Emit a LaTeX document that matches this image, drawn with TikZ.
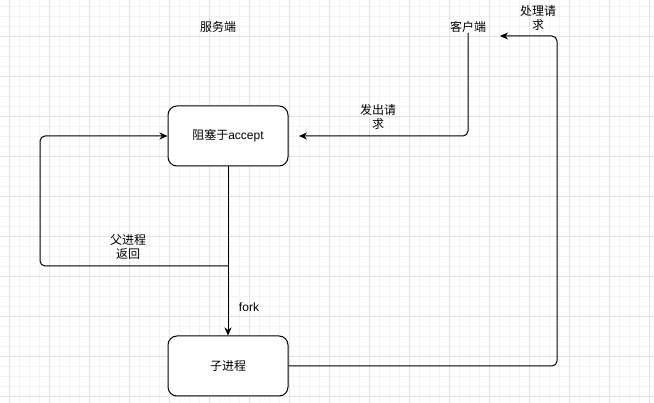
\documentclass[tikz,border=0pt]{standalone}
\usepackage{fontspec}
\setmainfont{Liberation Sans}
\newfontfamily\cjk{Noto Sans CJK SC}
\usetikzlibrary{arrows.meta}
\definecolor{gridminor}{HTML}{F3F3F3}
\definecolor{gridmajor}{HTML}{E2E2E2}
\begin{document}
\begin{tikzpicture}[x=1pt,y=-1pt,
  box/.style={draw=black, line width=1pt, rounded corners=9pt, minimum width=120pt, minimum height=60pt, inner sep=0pt, fill=white, font=\fontsize{12}{14}\selectfont},
  lbl/.style={font=\fontsize{12}{14}\selectfont, align=center, inner sep=0pt},
  conn/.style={draw=black, line width=1pt, rounded corners=5pt},
  tip/.style={-{Stealth[length=8pt,width=7pt,inset=2.5pt]}},
  minorline/.style={draw=gridminor, line width=0.8pt},
  majorline/.style={draw=gridmajor, line width=0.8pt}]
\useasboundingbox (0,0) rectangle (654,403);
\fill[white] (0,0) rectangle (654,403);
\foreach \x in {9,19,...,649} \draw[minorline] (\x,0) -- (\x,403);
\foreach \y in {6,16,...,396} \draw[minorline] (0,\y) -- (654,\y);
\foreach \x in {9,49,...,649} \draw[majorline] (\x,0) -- (\x,403);
\foreach \y in {36,76,...,396} \draw[majorline] (0,\y) -- (654,\y);

\node[box] (acc) at (228,136) {{\cjk 阻塞于}accept};
\node[box] (child) at (228,366) {\cjk 子进程};
\node[lbl] (srv) at (218,27) {\cjk 服务端};
\node[lbl] (cli) at (468,27) {\cjk 客户端};
\node[lbl] (req) at (378,117) {\cjk 发出请\\\cjk 求};
\node[lbl] (proc) at (538,17.5) {\cjk 处理请\\\cjk 求};
\node[lbl] (ret) at (128,246.5) {\cjk 父进程\\\cjk 返回};
\node[lbl] (fork) at (249,307) {fork};

\coordinate (split) at (228,266);
\coordinate (cliin) at (500,36);
\coordinate (accin) at (299,136);

\draw[conn,tip] (cli.south) |- (accin);
\draw[conn,tip] (acc.south) -- (child.north);
\draw[conn,tip] (split) -- (40,266) -- (40,136) -- (acc.west);
\draw[conn,tip] (child.east) -- (557,366) -- (557,36) -- (cliin);
\end{tikzpicture}
\end{document}
